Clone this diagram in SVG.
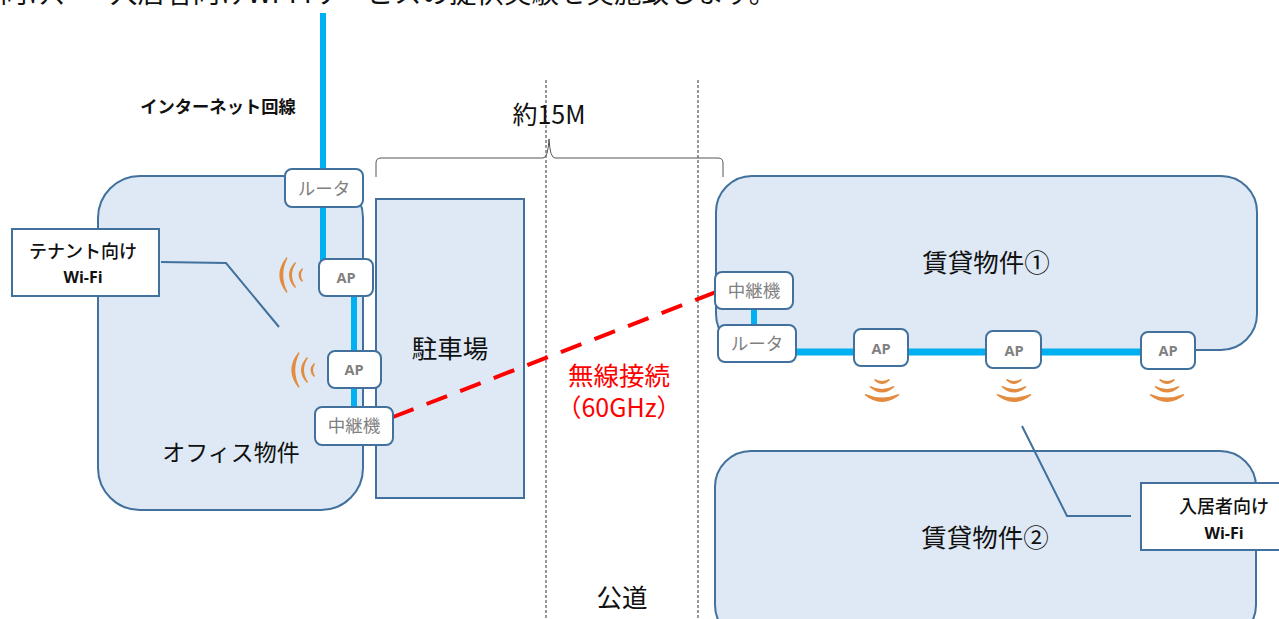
<svg xmlns="http://www.w3.org/2000/svg" xmlns:xlink="http://www.w3.org/1999/xlink" width="1279" height="619" viewBox="0 0 1279 619">
<style>
text{font-family:"Noto Sans CJK JP","Noto Sans",sans-serif;text-anchor:middle;fill:#111}
.area{fill:#dee9f5;stroke:#41719c;stroke-width:2}
.box{fill:#fff;stroke:#41719c;stroke-width:2}
.dev{font-size:17.500px;fill:#808080}
.ap{font-size:14.500px;font-weight:700;fill:#808080;font-family:"Open Sans","Noto Sans",sans-serif}
.big{font-size:25.500px}
.lab{font-size:18px;font-weight:500}
.wf{font-size:16px;font-weight:700;font-family:"Open Sans","Noto Sans",sans-serif}
.blue{stroke:#00b0f0;fill:none}
.guide{stroke:#333;stroke-width:1;stroke-dasharray:3 2;fill:none}
.call{stroke:#41719c;stroke-width:2;fill:none}
.wave{fill:#e38b3e}
</style>
<defs>
<g id="wl"><path d="M8.700-18Q-6 0 8.700 18L9.500 17Q1 0 9.500-17Z"/><path d="M17-13Q5 0 17 13L18 12Q10 0 18-12Z"/><path d="M24-7Q17 0 24 7L25 6Q21 0 25-6Z"/></g>
<g id="wd"><path d="M-17.500 15Q0 29 17.500 15L16.500 14Q0 21 -16.500 14Z"/><path d="M-12.500 7Q0 18 12.500 7L11.500 6Q0 12 -11.500 6Z"/><path d="M-8 0Q0 8 8 0L7-1Q0 3-7-1Z"/></g>
</defs>
<text y="3" style="font-size:27.500px;text-anchor:start"><tspan x="0">向け、</tspan><tspan x="110">入居者向けWi-Fiサービスの提供実験を実施致します。</tspan></text>
<g id="office"><rect class="area" x="98" y="176" width="265" height="334" rx="42"/><text x="231" y="461" style="font-size:23px">オフィス物件</text></g>
<g id="parking"><rect class="area" x="376" y="199" width="148" height="299"/><text class="big" x="450" y="358">駐車場</text></g>
<g id="rental1"><rect class="area" x="716" y="176" width="541" height="174" rx="36"/><text class="big" x="986" y="272">賃貸物件①</text></g>
<g id="rental2"><rect class="area" x="715" y="451" width="541" height="190" rx="36"/><text class="big" x="985" y="547">賃貸物件②</text></g>
<g id="guides"><path class="guide" d="M546 80V619M698 80V619"/><path d="M376 177V163Q376 158 381 158H543Q548 158 549 139Q550 158 555 158H718Q723 158 723 163V177" fill="none" stroke="#555" stroke-width="1"/></g>
<g id="connectors">
<path class="blue" stroke-width="6" d="M323 13V262"/>
<path class="blue" stroke-width="6" d="M354 290V410"/>
<path class="blue" stroke-width="6" d="M754 305V328"/>
<path class="blue" stroke-width="7" d="M792 352H1145"/>
<path d="M393 417L716 292" fill="none" stroke="#f00" stroke-width="4" stroke-dasharray="22 14"/>
<path class="call" d="M161 262L226 263L279 327"/>
<path class="call" d="M1022 426L1067 516H1131"/>
</g>
<g id="router-left"><rect class="box" x="285" y="169" width="78" height="38" rx="7"/><text class="dev" x="324" y="195">ルータ</text></g>
<g id="ap-left-1"><rect class="box" x="319" y="259" width="54" height="37" rx="7"/><text class="ap" x="346" y="283">AP</text><use xlink:href="#wl" class="wave" x="278" y="275"/></g>
<g id="ap-left-2"><rect class="box" x="328" y="351" width="53" height="37" rx="7"/><text class="ap" x="354" y="375">AP</text><use xlink:href="#wl" class="wave" x="290" y="370"/></g>
<g id="relay-left"><rect class="box" x="315" y="407" width="78" height="38" rx="7"/><text class="dev" x="354" y="432">中継機</text></g>
<g id="relay-right"><rect class="box" x="715" y="272" width="78" height="37" rx="7"/><text class="dev" x="754" y="297">中継機</text></g>
<g id="router-right"><rect class="box" x="718" y="325" width="78" height="37" rx="7"/><text class="dev" x="757" y="350">ルータ</text></g>
<g id="ap-right-1"><rect class="box" x="854" y="329" width="54" height="37" rx="7"/><text class="ap" x="881" y="354">AP</text><use xlink:href="#wd" class="wave" x="882" y="380"/></g>
<g id="ap-right-2"><rect class="box" x="986" y="331" width="55" height="37" rx="7"/><text class="ap" x="1014" y="356">AP</text><use xlink:href="#wd" class="wave" x="1014" y="380"/></g>
<g id="ap-right-3"><rect class="box" x="1141" y="332" width="54" height="37" rx="7"/><text class="ap" x="1168" y="356">AP</text><use xlink:href="#wd" class="wave" x="1167" y="380"/></g>
<g id="tenant-wifi"><rect class="box" x="12" y="229" width="147" height="67"/><text class="lab" x="83" y="258">テナント向け</text><text class="wf" x="83" y="283">Wi-Fi</text></g>
<g id="resident-wifi"><rect class="box" x="1141" y="483" width="145" height="67"/><text class="lab" x="1224" y="513">入居者向け</text><text class="wf" x="1224" y="539">Wi-Fi</text></g>
<g id="labels">
<text x="218" y="113" style="font-size:17.300px;font-weight:700">インターネット回線</text>
<text x="549" y="124" style="font-size:25px">約15M</text>
<text class="big" x="619" y="385" style="fill:#f00">無線接続</text>
<text x="619" y="417" style="fill:#f00;font-size:25px">（60GHz）</text>
<text class="big" x="622" y="607">公道</text>
</g>
</svg>
